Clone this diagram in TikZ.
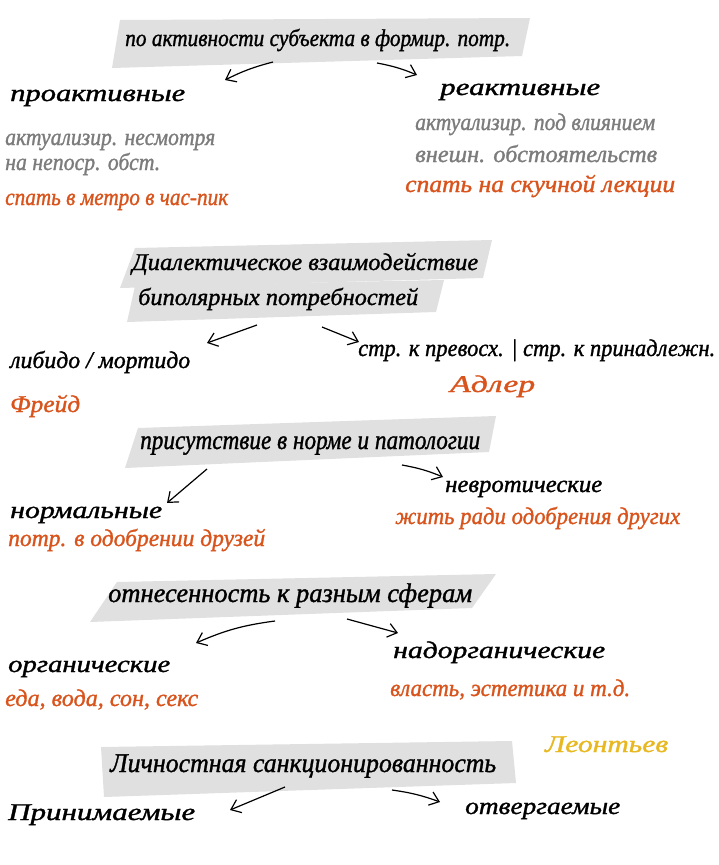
\documentclass[tikz,border=0pt]{standalone}
\usepackage{fontspec}
\usepackage{graphicx}
\setmainfont{Liberation Serif}[ItalicFeatures={FakeBold=1.2}]
\usetikzlibrary{arrows.meta}
\newcommand{\fitw}[2]{\resizebox{#1pt}{\height}{#2}}
\definecolor{bandgray}{HTML}{E0E0E0}
\definecolor{notegray}{HTML}{7C7C7C}
\definecolor{noteorange}{HTML}{D9541C}
\definecolor{noteyellow}{HTML}{E8B820}
\tikzset{
  hw/.style={anchor=base west, inner sep=0pt, font=\fontsize{24}{26}\selectfont\itshape},
  hwbig/.style={hw, font=\fontsize{27}{29}\selectfont\itshape},
  band/.style={fill=bandgray, draw=none},
  arr/.style={-{Straight Barb[length=9pt,width=14pt,line width=1.2pt]}, line width=1.2pt, black},
}
\begin{document}
\begin{tikzpicture}[x=1pt,y=-1pt]
\useasboundingbox (0,0) rectangle (718,865);
\fill[white] (0,0) rectangle (718,865);
% ---------- block 1 ----------
\fill[band] (120,20) -- (530,18) -- (522,56) -- (112,68) -- cycle;
\node[hw] (h1) at (125,46) {\fitw{385}{по активности субъекта в формир. потр.}};
\coordinate (a1s) at (273,62); \coordinate (a1e) at (225,80);
\coordinate (a2s) at (377,63); \coordinate (a2e) at (417,75);
\draw[arr] (a1s) to[bend right=6] (a1e);
\draw[arr] (a2s) to[bend left=6] (a2e);
\node[hw] (pro) at (10,101) {\fitw{175}{проактивные}};
\node[hw] (rea) at (440,95) {\fitw{160}{реактивные}};
\node[hw, notegray] (pro1) at (5,145) {\fitw{210}{актуализир. несмотря}};
\node[hw, notegray] (pro2) at (5,170) {\fitw{155}{на непоср. обст.}};
\node[hw, noteorange] (pro3) at (5,205) {\fitw{223}{спать в метро в час-пик}};
\node[hw, notegray] (rea1) at (415,130) {\fitw{240}{актуализир. под влиянием}};
\node[hw, notegray] (rea2) at (415,162) {\fitw{242}{внешн. обстоятельств}};
\node[hw, noteorange] (rea3) at (405,192) {\fitw{270}{спать на скучной лекции}};
% ---------- block 2 ----------
\fill[band] (135,248) -- (492,240) -- (483,278) -- (120,288) -- cycle;
\fill[band] (135,286) -- (444,280) -- (436,312) -- (127,322) -- cycle;
\node[hw] (h2a) at (132,270) {\fitw{346}{Диалектическое взаимодействие}};
\node[hw] (h2b) at (138,305) {\fitw{280}{биполярных потребностей}};
\coordinate (b1s) at (257,325); \coordinate (b1e) at (207,343);
\coordinate (b2s) at (322,327); \coordinate (b2e) at (359,342);
\draw[arr] (b1s) -- (b1e);
\draw[arr] (b2s) -- (b2e);
\node[hw] (lib) at (10,368) {\fitw{180}{либидо / мортидо}};
\node[hw, noteorange] (freud) at (10,412) {\fitw{70}{Фрейд}};
\node[hw] (adl1) at (358,356) {\fitw{357}{стр. к превосх. | стр. к принадлежн.}};
\node[hw, noteorange] (adler) at (450,392) {\fitw{85}{Адлер}};
% ---------- block 3 ----------
\fill[band] (138,428) -- (496,416) -- (489,452) -- (125,468) -- cycle;
\node[hwbig] (h3) at (140,449) {\fitw{340}{присутствие в норме и патологии}};
\coordinate (c1s) at (207,469); \coordinate (c1e) at (167,503);
\coordinate (c2s) at (402,465); \coordinate (c2e) at (443,477);
\draw[arr] (c1s) -- (c1e);
\draw[arr] (c2s) to[bend left=6] (c2e);
\node[hw] (norm) at (10,518) {\fitw{152}{нормальные}};
\node[hw, noteorange] (norm1) at (8,546) {\fitw{257}{потр. в одобрении друзей}};
\node[hw] (nevr) at (445,492) {\fitw{157}{невротические}};
\node[hw, noteorange] (nevr1) at (395,524) {\fitw{285}{жить ради одобрения других}};
% ---------- block 4 ----------
\fill[band] (117,582) -- (496,574) -- (472,608) -- (90,622) -- cycle;
\node[hwbig] (h4) at (108,602) {\fitw{364}{отнесенность к разным сферам}};
\coordinate (d1s) at (275,621); \coordinate (d1e) at (196,643);
\coordinate (d2s) at (347,619); \coordinate (d2e) at (398,633);
\draw[arr] (d1s) to[bend right=8] (d1e);
\draw[arr] (d2s) -- (d2e);
\node[hw] (org) at (8,672) {\fitw{162}{органические}};
\node[hw, noteorange] (org1) at (5,706) {\fitw{193}{еда, вода, сон, секс}};
\node[hw] (nadorg) at (393,658) {\fitw{212}{надорганические}};
\node[hw, noteorange] (nadorg1) at (390,696) {\fitw{240}{власть, эстетика и т.д.}};
% ---------- block 5 ----------
\fill[band] (101,747) -- (512,741) -- (516,783) -- (104,797) -- cycle;
\node[hwbig] (h5) at (110,772) {\fitw{386}{Личностная санкционированность}};
\node[hw, noteyellow] (leon) at (545,752) {\fitw{123}{Леонтьев}};
\coordinate (e1s) at (285,787); \coordinate (e1e) at (230,810);
\coordinate (e2s) at (392,790); \coordinate (e2e) at (440,802);
\draw[arr] (e1s) -- (e1e);
\draw[arr] (e2s) to[bend left=6] (e2e);
\node[hw] (prin) at (8,820) {\fitw{187}{Принимаемые}};
\node[hw] (otv) at (465,814) {\fitw{155}{отвергаемые}};
\end{tikzpicture}
\end{document}
